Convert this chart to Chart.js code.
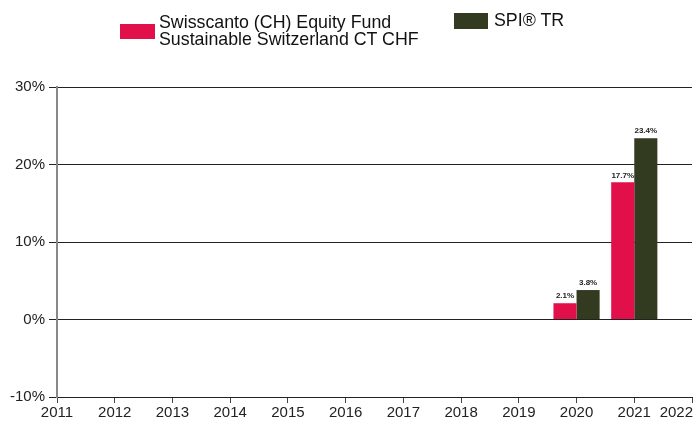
<!DOCTYPE html>
<html>
<head>
<meta charset="utf-8">
<script src="https://cdn.jsdelivr.net/npm/chart.js@4/dist/chart.umd.min.js"></script>
<style>
  body { margin: 0; background: #fff; font-family: "Liberation Sans", Arial, sans-serif; }
  #wrap { position: relative; width: 693px; height: 425px; }
  .box { position: absolute; }
  .txt { position: absolute; font-size: 17.8px; line-height: 17px; color: #111; white-space: nowrap; }
</style>
</head>
<body>
<div id="wrap">
  <canvas id="chart" width="693" height="425"></canvas>
  <div class="box" style="left:120px;top:24px;width:35px;height:15px;background:#e2104a"></div>
  <div class="txt" style="left:159px;top:14px">Swisscanto (CH) Equity Fund<br>Sustainable Switzerland CT CHF</div>
  <div class="box" style="left:454px;top:13px;width:34px;height:16px;background:#323a20"></div>
  <div class="txt" style="left:494px;top:12px">SPI® TR</div>
</div>
<script>
// Werte aus der Grafik
const years = ['2011', '2012', '2013', '2014', '2015', '2016', '2017', '2018', '2019', '2020', '2021', '2022'];
const fundValues = [null, null, null, null, null, null, null, null, null, 2.1, 17.7, null];
const indexValues = [null, null, null, null, null, null, null, null, null, 3.8, 23.4, null];
const yTicks = [-10, 0, 10, 20, 30];

const FUND_COLOR = '#e2104a';
const INDEX_COLOR = '#323a20';
const FONT = '"Liberation Sans", Arial, sans-serif';

// Beschriftung über den Balken + letzte Jahreszahl am rechten Rand
const valueLabels = {
  id: 'valueLabels',
  afterDatasetsDraw(chart) {
    const ctx = chart.ctx;
    ctx.save();
    ctx.font = 'bold 8px ' + FONT;
    ctx.fillStyle = '#222';
    ctx.textAlign = 'center';
    ctx.textBaseline = 'bottom';
    chart.data.datasets.forEach((ds, i) => {
      chart.getDatasetMeta(i).data.forEach((bar, j) => {
        const v = ds.data[j];
        if (v == null) return;
        ctx.fillText(v.toFixed(1) + '%', bar.x, bar.y - 3);
      });
    });
    // letzte Achsenbeschriftung passt nicht zentriert in die Fläche
    const x = chart.scales.x;
    ctx.font = '15px ' + FONT;
    ctx.textAlign = 'right';
    ctx.textBaseline = 'top';
    ctx.fillText(years[years.length - 1], chart.width, x.top + 8);
    ctx.restore();
  }
};

new Chart(document.getElementById('chart'), {
  type: 'bar',
  data: {
    labels: years,
    datasets: [
      { label: 'Swisscanto (CH) Equity Fund Sustainable Switzerland CT CHF', data: fundValues, backgroundColor: FUND_COLOR },
      { label: 'SPI® TR', data: indexValues, backgroundColor: INDEX_COLOR }
    ]
  },
  options: {
    responsive: false,
    animation: false,
    layout: { padding: { top: 87, right: 1, bottom: 0, left: 0 } },
    datasets: { bar: { categoryPercentage: 0.8, barPercentage: 1.0 } },
    plugins: { legend: { display: false }, tooltip: { enabled: false } },
    scales: {
      x: {
        offset: false,
        grid: { offset: false, drawOnChartArea: false, drawTicks: true, tickLength: 6, color: '#444' },
        border: { color: '#222', width: 1 },
        ticks: {
          font: { family: FONT, size: 15 },
          color: '#222', maxRotation: 0, autoSkip: false, padding: 1,
          callback: (v, i) => i === years.length - 1 ? '' : years[i]
        },
        afterFit(s) { s.height = 28; s.paddingLeft = 0; s.paddingRight = 0; }
      },
      y: {
        min: -10,
        max: 30,
        afterBuildTicks(s) { s.ticks = yTicks.map(v => ({ value: v })); },
        grid: { color: '#222', lineWidth: 1, tickLength: 8 },
        border: { color: '#888', width: 2 },
        ticks: {
          font: { family: FONT, size: 15 },
          color: '#222', padding: 4,
          callback: v => v + '%'
        },
        afterFit(s) { s.width = 57; s.paddingTop = 0; s.paddingBottom = 0; }
      }
    }
  },
  plugins: [valueLabels]
});
</script>
</body>
</html>
